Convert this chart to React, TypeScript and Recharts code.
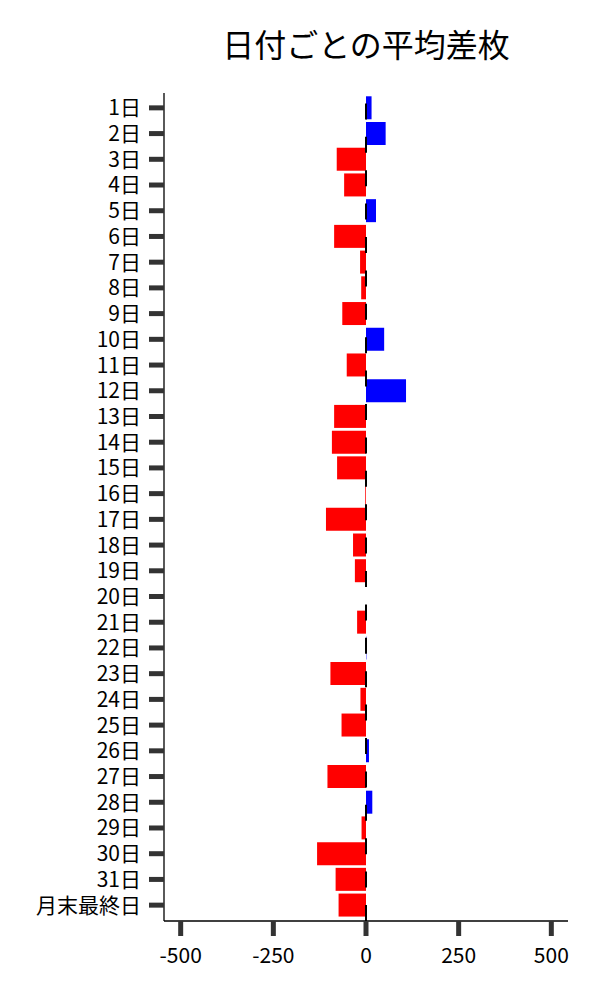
import { BarChart, Bar, XAxis, YAxis, Cell, ReferenceLine } from 'recharts'

const days = [
  '1日', '2日', '3日', '4日', '5日', '6日', '7日', '8日', '9日', '10日',
  '11日', '12日', '13日', '14日', '15日', '16日', '17日', '18日', '19日', '20日',
  '21日', '22日', '23日', '24日', '25日', '26日', '27日', '28日', '29日', '30日',
  '31日', '月末最終日',
]

const avgDiff = [
  15, 53, -79, -59, 27, -86, -16, -13, -64, 49,
  -52, 108, -86, -92, -78, -2, -108, -35, -30, 0,
  -24, 1, -96, -15, -66, 8, -104, 17, -12, -132,
  -82, -74,
]

const xTicks = [-500, -250, 0, 250, 500]

const FONT = '"Noto Sans CJK JP", "Noto Sans", sans-serif'

export default function App() {
  const data = days.map((d, i) => ({ day: d, value: avgDiff[i] }))

  return (
    <div style={{ position: 'absolute', left: 0, top: 0, width: 600, height: 1000, background: '#fff' }}>
      <div
        style={{
          position: 'absolute',
          left: 164,
          width: 404,
          top: 21,
          textAlign: 'center',
          fontFamily: FONT,
          fontSize: 32,
          lineHeight: '44px',
          color: '#000',
        }}
      >
        日付ごとの平均差枚
      </div>
      <BarChart
        width={600}
        height={1000}
        data={data}
        layout="vertical"
        barCategoryGap="5%"
        margin={{ top: 93, right: 32, left: 0, bottom: 0 }}
      >
        <XAxis
          type="number"
          domain={[-545, 545]}
          ticks={xTicks}
          allowDataOverflow
          height={79}
          tickSize={15}
          tickMargin={12}
          axisLine={{ stroke: '#000', strokeWidth: 1.3 }}
          tickLine={{ stroke: '#333', strokeWidth: 5 }}
          tick={{ fill: '#000', fontSize: 21, fontFamily: FONT }}
        />
        <YAxis
          type="category"
          dataKey="day"
          width={164}
          interval={0}
          padding={{ top: 2, bottom: 3 }}
          tickSize={15}
          tickMargin={8}
          axisLine={{ stroke: '#000', strokeWidth: 1.3 }}
          tickLine={{ stroke: '#333', strokeWidth: 5 }}
          tick={{ fill: '#000', fontSize: 21, fontFamily: FONT }}
        />
        <Bar dataKey="value" isAnimationActive={false}>
          {data.map((d, i) => (
            <Cell key={i} fill={d.value >= 0 ? '#0000ff' : '#ff0000'} />
          ))}
        </Bar>
        <ReferenceLine x={0} stroke="#000" strokeWidth={2} strokeDasharray="16 17.4" />
      </BarChart>
    </div>
  )
}
